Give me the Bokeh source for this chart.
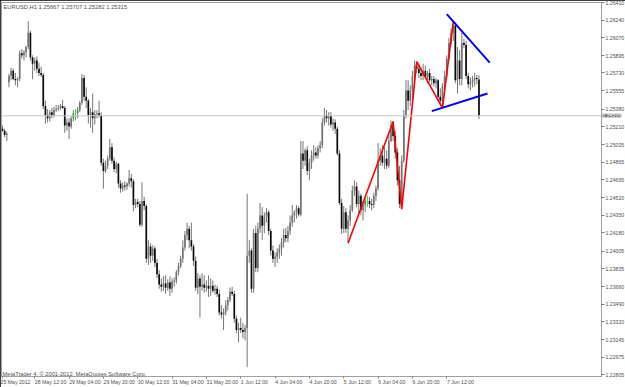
from bokeh.plotting import figure
from bokeh.models import Range1d, FixedTicker, PrintfTickFormatter, Span, Label, ColumnDataSource
from bokeh.layouts import column
from bokeh.embed import file_html
from bokeh.resources import INLINE

symbol = "EURUSD,H1"
last_ohlc = [1.25667, 1.25707, 1.25282, 1.25315]

opens = [
1.2519,1.2517,1.2513,1.2564,1.2570,1.2575,1.2567,1.2566,1.2567,1.2592,
1.2590,1.2593,1.2598,1.2612,1.2588,1.2582,1.2585,1.2577,1.2573,1.2571,
1.2541,1.2532,1.2529,1.2535,1.2532,1.2537,1.2538,1.2539,1.2541,1.2539,
1.2522,1.2525,1.2521,1.2529,1.2534,1.2534,1.2537,1.2544,1.2568,1.2550,
1.2546,1.2532,1.2535,1.2529,1.2533,1.2534,1.2532,1.2486,1.2478,1.2483,
1.2490,1.2501,1.2488,1.2480,1.2485,1.2466,1.2461,1.2464,1.2463,1.2466,
1.2471,1.2468,1.2445,1.2448,1.2446,1.2426,1.2449,1.2444,1.2393,1.2405,
1.2396,1.2403,1.2389,1.2378,1.2368,1.2366,1.2369,1.2365,1.2370,1.2364,
1.2371,1.2372,1.2380,1.2386,1.2393,1.2404,1.2416,1.2422,1.2411,1.2405,
1.2391,1.2365,1.2374,1.2366,1.2368,1.2365,1.2367,1.2364,1.2367,1.2362,
1.2364,1.2359,1.2341,1.2339,1.2341,1.2348,1.2353,1.2361,1.2359,1.2335,
1.2324,1.2326,1.2324,1.2322,1.2326,1.2396,1.2401,1.2364,1.2418,1.2384,
1.2422,1.2435,1.2425,1.2434,1.2438,1.2420,1.2401,1.2393,1.2395,1.2399,
1.2403,1.2409,1.2416,1.2413,1.2420,1.2428,1.2435,1.2438,1.2442,1.2436,
1.2495,1.2488,1.2498,1.2478,1.2486,1.2493,1.2496,1.2493,1.2500,1.2503,
1.2525,1.2532,1.2529,1.2531,1.2523,1.2525,1.2519,1.2495,1.2447,1.2422,
1.2438,1.2422,1.2430,1.2440,1.2459,1.2463,1.2446,1.2454,1.2440,1.2445,
1.2449,1.2449,1.2446,1.2445,1.2454,1.2461,1.2488,1.2493,1.2486,1.2490,
1.2483,1.2507,1.2522,1.2512,1.2496,1.2469,1.2446,1.2488,1.2532,1.2556,
1.2546,1.2556,1.2570,1.2580,1.2577,1.2573,1.2570,1.2575,1.2569,1.2573,
1.2566,1.2567,1.2563,1.2566,1.2550,1.2546,1.2560,1.2570,1.2587,1.2602,
1.2612,1.2619,1.2566,1.2585,1.2567,1.2602,1.2600,1.2570,1.2562,1.2564,
1.2566,1.2568,1.25667]

highs = [
1.2522,1.2519,1.2516,1.2572,1.2578,1.2577,1.2573,1.2569,1.2595,1.2596,
1.2595,1.2599,1.2623,1.2614,1.2590,1.2588,1.2589,1.2583,1.2579,1.2573,
1.2546,1.2538,1.2537,1.2539,1.2540,1.2542,1.2542,1.2543,1.2547,1.2541,
1.2529,1.2529,1.2531,1.2537,1.2538,1.2540,1.2546,1.2572,1.2571,1.2559,
1.2548,1.2539,1.2553,1.2537,1.2537,1.2546,1.2535,1.2490,1.2488,1.2493,
1.2509,1.2505,1.2491,1.2487,1.2486,1.2469,1.2467,1.2468,1.2467,1.2479,
1.2475,1.2470,1.2451,1.2451,1.2449,1.2467,1.2453,1.2446,1.2411,1.2408,
1.2406,1.2405,1.2393,1.2382,1.2374,1.2376,1.2377,1.2373,1.2376,1.2374,
1.2375,1.2382,1.2389,1.2396,1.2411,1.2420,1.2428,1.2425,1.2428,1.2407,
1.2395,1.2379,1.2377,1.2379,1.2377,1.2372,1.2377,1.2374,1.2372,1.2368,
1.2367,1.2363,1.2348,1.2345,1.2353,1.2356,1.2365,1.2366,1.2362,1.2338,
1.2331,1.2336,1.2331,1.2329,1.2456,1.2411,1.2403,1.2422,1.2425,1.2428,
1.2447,1.2443,1.2438,1.2442,1.2440,1.2422,1.2406,1.2399,1.2403,1.2407,
1.2413,1.2422,1.2423,1.2425,1.2435,1.2445,1.2440,1.2445,1.2444,1.2507,
1.2507,1.2500,1.2502,1.2490,1.2498,1.2503,1.2501,1.2503,1.2507,1.2529,
1.2539,1.2537,1.2535,1.2535,1.2529,1.2528,1.2521,1.2498,1.2451,1.2444,
1.2442,1.2435,1.2445,1.2464,1.2469,1.2467,1.2459,1.2456,1.2449,1.2452,
1.2454,1.2453,1.2451,1.2457,1.2464,1.2505,1.2500,1.2503,1.2501,1.2498,
1.2515,1.2527,1.2526,1.2517,1.2500,1.2483,1.2493,1.2537,1.2566,1.2566,
1.2561,1.2575,1.2585,1.2584,1.2582,1.2579,1.2582,1.2580,1.2575,1.2577,
1.2570,1.2570,1.2568,1.2567,1.2558,1.2563,1.2575,1.2590,1.2607,1.2616,
1.2624,1.2622,1.2598,1.2595,1.2612,1.2606,1.2604,1.2573,1.2569,1.2570,
1.2573,1.2571,1.25707]

lows = [
1.2516,1.2511,1.2507,1.2559,1.2566,1.2566,1.2561,1.2559,1.2565,1.2587,
1.2585,1.2588,1.2596,1.2585,1.2567,1.2575,1.2573,1.2570,1.2569,1.2538,
1.2524,1.2525,1.2526,1.2529,1.2530,1.2535,1.2536,1.2537,1.2538,1.2515,
1.2517,1.2509,1.2519,1.2526,1.2527,1.2529,1.2535,1.2542,1.2546,1.2539,
1.2524,1.2520,1.2515,1.2523,1.2529,1.2530,1.2483,1.2461,1.2476,1.2480,
1.2488,1.2485,1.2477,1.2476,1.2462,1.2457,1.2458,1.2459,1.2460,1.2463,
1.2462,1.2439,1.2442,1.2443,1.2424,1.2424,1.2440,1.2389,1.2387,1.2389,
1.2391,1.2385,1.2374,1.2364,1.2361,1.2362,1.2359,1.2362,1.2357,1.2360,
1.2366,1.2369,1.2377,1.2384,1.2389,1.2401,1.2411,1.2403,1.2401,1.2386,
1.2362,1.2359,1.2336,1.2362,1.2360,1.2361,1.2356,1.2357,1.2360,1.2358,
1.2356,1.2338,1.2335,1.2324,1.2338,1.2343,1.2351,1.2357,1.2331,1.2321,
1.2312,1.2321,1.2316,1.2314,1.2288,1.2389,1.2360,1.2360,1.2380,1.2380,
1.2418,1.2411,1.2418,1.2428,1.2416,1.2396,1.2389,1.2385,1.2389,1.2393,
1.2396,1.2404,1.2409,1.2409,1.2416,1.2424,1.2428,1.2432,1.2434,1.2434,
1.2480,1.2483,1.2474,1.2469,1.2480,1.2488,1.2490,1.2490,1.2496,1.2500,
1.2522,1.2525,1.2522,1.2520,1.2517,1.2514,1.2493,1.2445,1.2417,1.2418,
1.2418,1.2409,1.2425,1.2438,1.2454,1.2443,1.2437,1.2435,1.2430,1.2438,
1.2443,1.2442,1.2440,1.2442,1.2449,1.2459,1.2483,1.2483,1.2480,1.2480,
1.2481,1.2506,1.2507,1.2490,1.2464,1.2442,1.2444,1.2486,1.2529,1.2537,
1.2541,1.2546,1.2566,1.2573,1.2568,1.2566,1.2566,1.2567,1.2563,1.2564,
1.2561,1.2560,1.2558,1.2546,1.2543,1.2539,1.2556,1.2567,1.2585,1.2600,
1.2604,1.2563,1.2553,1.2561,1.2561,1.2597,1.2567,1.2558,1.2556,1.2559,
1.2560,1.2562,1.25282]

closes = [
1.2517,1.2513,1.2514,1.2570,1.2575,1.2567,1.2566,1.2567,1.2592,1.2590,
1.2593,1.2598,1.2612,1.2588,1.2582,1.2585,1.2577,1.2573,1.2571,1.2541,
1.2532,1.2529,1.2535,1.2532,1.2537,1.2538,1.2539,1.2541,1.2539,1.2522,
1.2525,1.2521,1.2529,1.2534,1.2534,1.2537,1.2544,1.2568,1.2550,1.2546,
1.2532,1.2535,1.2529,1.2533,1.2534,1.2532,1.2486,1.2478,1.2483,1.2490,
1.2501,1.2488,1.2480,1.2485,1.2466,1.2461,1.2464,1.2463,1.2466,1.2471,
1.2468,1.2445,1.2448,1.2446,1.2426,1.2449,1.2444,1.2393,1.2405,1.2396,
1.2403,1.2389,1.2378,1.2368,1.2366,1.2369,1.2365,1.2370,1.2364,1.2371,
1.2372,1.2380,1.2386,1.2393,1.2404,1.2416,1.2422,1.2411,1.2405,1.2391,
1.2365,1.2374,1.2366,1.2368,1.2365,1.2367,1.2364,1.2367,1.2362,1.2364,
1.2359,1.2341,1.2339,1.2341,1.2348,1.2353,1.2361,1.2359,1.2335,1.2324,
1.2326,1.2324,1.2322,1.2326,1.2396,1.2401,1.2364,1.2418,1.2384,1.2422,
1.2435,1.2425,1.2434,1.2438,1.2420,1.2401,1.2393,1.2395,1.2399,1.2403,
1.2409,1.2416,1.2413,1.2420,1.2428,1.2435,1.2438,1.2442,1.2436,1.2495,
1.2488,1.2498,1.2478,1.2486,1.2493,1.2496,1.2493,1.2500,1.2503,1.2525,
1.2532,1.2529,1.2531,1.2523,1.2525,1.2519,1.2495,1.2447,1.2422,1.2438,
1.2422,1.2430,1.2440,1.2459,1.2463,1.2446,1.2454,1.2440,1.2445,1.2449,
1.2449,1.2446,1.2445,1.2454,1.2461,1.2488,1.2493,1.2486,1.2490,1.2483,
1.2507,1.2522,1.2512,1.2496,1.2469,1.2446,1.2488,1.2532,1.2556,1.2546,
1.2556,1.2570,1.2580,1.2577,1.2573,1.2570,1.2575,1.2569,1.2573,1.2566,
1.2567,1.2563,1.2566,1.2550,1.2546,1.2560,1.2570,1.2587,1.2602,1.2612,
1.2619,1.2566,1.2585,1.2567,1.2602,1.2600,1.2570,1.2562,1.2564,1.2566,
1.2568,1.2567,1.25315]

time_ticks = [0, 15, 31, 47, 63, 79, 95, 111, 127, 143, 159, 175, 191, 207]
time_labels = ["25 May 2012", "28 May 12:00", "29 May 04:00", "29 May 20:00",
               "30 May 12:00", "31 May 04:00", "31 May 20:00", "1 Jun 12:00",
               "4 Jun 04:00", "4 Jun 20:00", "5 Jun 12:00", "6 Jun 04:00",
               "6 Jun 20:00", "7 Jun 12:00"]

price_ticks = [1.26410, 1.26240, 1.26070, 1.25895, 1.25730, 1.25555, 1.25380,
               1.25210, 1.25035, 1.24865, 1.24695, 1.24520, 1.24350, 1.24180,
               1.24005, 1.23835, 1.23660, 1.23490, 1.23320, 1.23145, 1.22975,
               1.22805]

zigzag_bars = [161, 182, 186, 193, 205, 210]
zigzag_prices = [1.2408, 1.2526, 1.2441, 1.2584, 1.2539, 1.2622]
upper_line_bars = [207, 227]
upper_line_prices = [1.2630, 1.2583]
lower_line_bars = [200, 226]
lower_line_prices = [1.2536, 1.2553]

assert len(opens) == len(highs) == len(lows) == len(closes)
n = len(closes)
bars = list(range(n))
current_price = closes[-1]

FONT = "Liberation Sans"
TXT = "#505050"

tops = [max(o, c) for o, c in zip(opens, closes)]
bottoms = [min(o, c) for o, c in zip(opens, closes)]
body_col = ["#737373" if c > o else "#0a0a0a" for o, c in zip(opens, closes)]
wick_col = ["#22dd22" if c == o else "#777777" for o, c in zip(opens, closes)]

src = ColumnDataSource(dict(x=bars, h=highs, l=lows, top=tops, bottom=bottoms,
                            body=body_col, wick=wick_col))

p = figure(frame_width=600, frame_height=374,
           x_range=Range1d(-0.47, 279.1), y_range=Range1d(1.22790, 1.26412),
           output_backend="svg", toolbar_location=None,
           y_axis_location="right", x_axis_location="below",
           min_border_left=1, min_border_top=2, min_border_right=0, min_border_bottom=0)
p.background_fill_color = "white"
p.border_fill_color = "white"
p.outline_line_color = "#a0a0a0"
p.xgrid.visible = False
p.ygrid.visible = False

p.add_layout(Span(location=current_price, dimension="width", line_color="#c4c8d0", line_width=1))

p.segment(x0="x", y0="h", x1="x", y1="l", source=src, line_color="wick", line_width=1)
p.vbar(x="x", width=0.78, top="top", bottom="bottom", source=src,
       fill_color="body", line_color=None)

p.line(zigzag_bars, zigzag_prices, line_color="#ff0000", line_width=1.6)
p.line(upper_line_bars, upper_line_prices, line_color="#0000ff", line_width=2)
p.line(lower_line_bars, lower_line_prices, line_color="#0000ff", line_width=2)

# right price axis
ya = p.yaxis[0]
ya.ticker = FixedTicker(ticks=price_ticks)
ya.formatter = PrintfTickFormatter(format="%.5f")
ya.major_label_text_font_size = "5.2px"
ya.major_label_text_font = FONT
ya.major_label_text_color = TXT
ya.major_tick_out = 3
ya.major_tick_in = 0
ya.minor_tick_line_color = None
ya.major_label_standoff = 1
ya.axis_line_color = "#a0a0a0"
ya.major_tick_line_color = "#808080"

# bottom time axis: MT4 writes each time label to the right of its tick,
# so labels are padded on the left by their own width (non-breaking spaces);
# the first one is kept inside the canvas by Bokeh anyway
CW = {"M": 0.833, "a": 0.556, "y": 0.5, "J": 0.5, "u": 0.556, "n": 0.556,
      " ": 0.278, ":": 0.278}
def padded(lab):
    w = sum(CW.get(ch, 0.556) for ch in lab)
    return "\u00a0" * int(round(w / 0.278)) + lab

xa = p.xaxis[0]
xa.ticker = FixedTicker(ticks=time_ticks)
xa.major_label_overrides = {t: (lab if i == 0 else padded(lab))
                            for i, (t, lab) in enumerate(zip(time_ticks, time_labels))}
xa.major_label_text_font_size = "5.2px"
xa.major_label_text_font = FONT
xa.major_label_text_color = TXT
xa.major_label_text_line_height = 1.0
xa.major_tick_out = 2
xa.major_tick_in = 0
xa.minor_tick_line_color = None
xa.major_label_standoff = 0
xa.axis_line_color = "#a0a0a0"
xa.major_tick_line_color = "#808080"

title_text = "%s  %.5f %.5f %.5f %.5f" % (symbol, *last_ohlc)
p.add_layout(Label(x=2, y=370, x_units="screen", y_units="screen", text=title_text,
                   text_font=FONT, text_font_size="5.8px", text_color=TXT,
                   text_baseline="middle", text_align="left"))
p.add_layout(Label(x=1, y=3, x_units="screen", y_units="screen",
                   text="MetaTrader 4, \u00a9 2001-2012, MetaQuotes Software Corp.",
                   text_font=FONT, text_font_size="5.7px", text_color=TXT,
                   text_baseline="middle", text_align="left"))
# current-price box on the price scale; it lives in a side panel below the time
# axis (outside the visible window), so it is not clipped to the frame
p.add_layout(Label(x=601, y=current_price, x_units="screen", y_units="data",
                   text="%.5f" % current_price, text_font=FONT, text_font_size="5.2px",
                   text_color="#ffffff", background_fill_color="#7f7f7f",
                   text_baseline="middle", text_align="left"), "below")

layout = column(p, styles={"background-color": "#000000"})

open("out.html", "w").write(file_html(layout, INLINE))
